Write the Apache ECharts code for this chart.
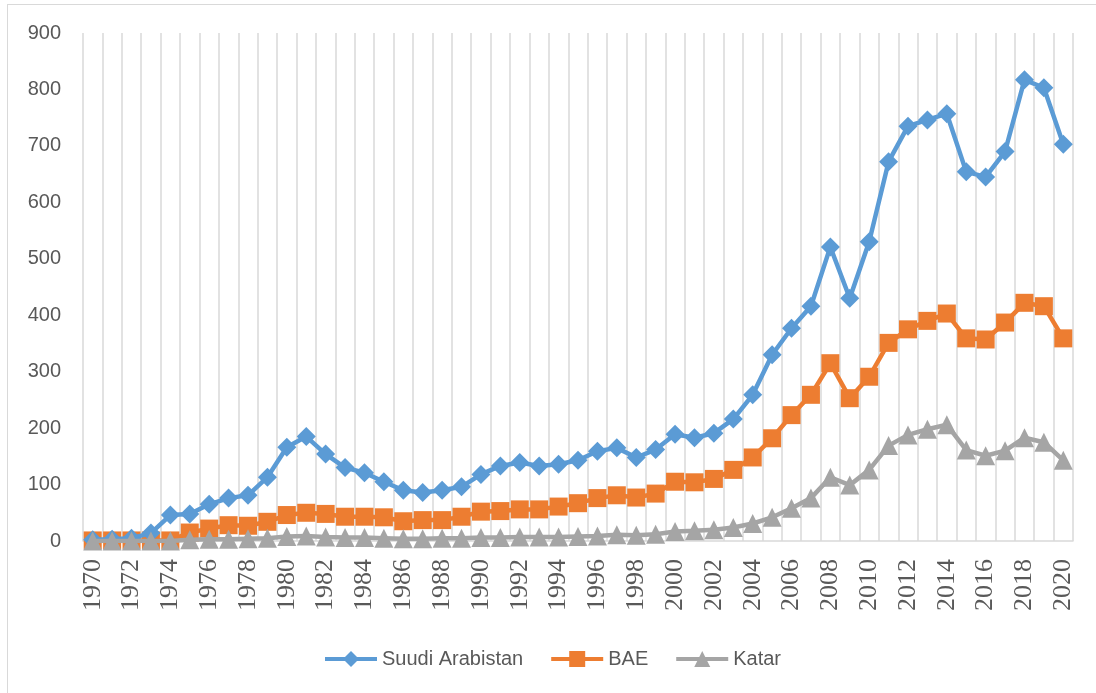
<!DOCTYPE html>
<html lang="tr">
<head>
    <meta charset="UTF-8">
    <title>Suudi Arabistan, BAE, Katar</title>
    <style>
        html, body { margin: 0; padding: 0; background: #fff; }
        #frame {
            position: absolute; left: 7px; top: 4px;
            width: 1200px; height: 800px;
            border: 1px solid #d9d9d9;
        }
        #chart { position: absolute; left: 0; top: 0; width: 1096px; height: 693px; }
    </style>
</head>
<body>
<div id="frame"></div>
<div id="chart"></div>

<script src="https://cdn.jsdelivr.net/npm/echarts@6/dist/echarts.min.js"></script>
<script>
    const years = [];
    for (let y = 1970; y <= 2020; y++) years.push(String(y));

    const suudiArabistan = [2, 3, 5, 14, 46, 48, 65, 76, 81, 113,
        166, 185, 154, 130, 121, 105, 90, 86, 90, 96,
        118, 133, 139, 133, 136, 143, 159, 165, 148, 162,
        189, 183, 191, 216, 259, 330, 377, 416, 521, 430,
        530, 672, 735, 746, 757, 654, 645, 690, 817, 803, 703];

    const bae = [1, 1, 1, 1, 1, 15, 22, 28, 27, 34,
        46, 50, 48, 43, 43, 42, 35, 37, 37, 43,
        52, 53, 56, 56, 61, 67, 76, 81, 77, 84,
        105, 104, 110, 126, 148, 182, 223, 259, 315, 253,
        291, 351, 375, 390, 403, 359, 357, 387, 422, 416, 359];

    const katar = [0, 0, 0, 0, 0, 2, 3, 3, 4, 5,
        8, 9, 7, 6, 6, 5, 4, 4, 5, 5,
        6, 6, 7, 7, 7, 8, 9, 11, 10, 12,
        17, 18, 20, 24, 31, 42, 58, 76, 113, 99,
        126, 169, 188, 198, 206, 161, 151, 160, 183, 175, 143];

    const chart = echarts.init(document.getElementById("chart"));

    const textColor = "#595959";
    const gridColor = "#d9d9d9";

    const option = {
        animation: false,
        grid: { left: 83, right: 23, top: 33, bottom: 152 },
        legend: {
            left: 318,
            top: 644,
            itemWidth: 52,
            itemHeight: 20,
            itemGap: 26,
            lineStyle: { width: 4 },
            textStyle: { color: textColor, fontSize: 20, fontFamily: "Liberation Sans" },
            data: ["Suudi Arabistan", "BAE", "Katar"]
        },
        xAxis: {
            type: "category",
            data: years,
            boundaryGap: true,
            axisTick: { show: false },
            axisLine: { lineStyle: { color: gridColor, width: 1.5 } },
            splitLine: { show: true, interval: 0, lineStyle: { color: gridColor, width: 1.5 } },
            axisLabel: {
                interval: 1,
                rotate: 90,
                margin: 18,
                color: textColor,
                fontSize: 26,
                fontFamily: "Liberation Serif"
            }
        },
        yAxis: {
            type: "value",
            min: 0,
            max: 900,
            interval: 100,
            axisLine: { show: false },
            axisTick: { show: false },
            splitLine: { show: false },
            axisLabel: { color: textColor, fontSize: 20, margin: 22, fontFamily: "Liberation Sans" }
        },
        series: [
            {
                name: "Suudi Arabistan",
                type: "line",
                data: suudiArabistan,
                showAllSymbol: true,
                symbol: "diamond",
                symbolSize: 19,
                color: "#5B9BD5",
                lineStyle: { width: 4.5 },
                z: 4
            },
            {
                name: "BAE",
                type: "line",
                data: bae,
                showAllSymbol: true,
                symbol: "rect",
                symbolSize: 18,
                color: "#ED7D31",
                lineStyle: { width: 4.5 },
                z: 3
            },
            {
                name: "Katar",
                type: "line",
                data: katar,
                showAllSymbol: true,
                symbol: "triangle",
                symbolSize: 19,
                color: "#A5A5A5",
                lineStyle: { width: 4.5 },
                z: 5
            }
        ]
    };

    chart.setOption(option);
</script>
</body>
</html>
